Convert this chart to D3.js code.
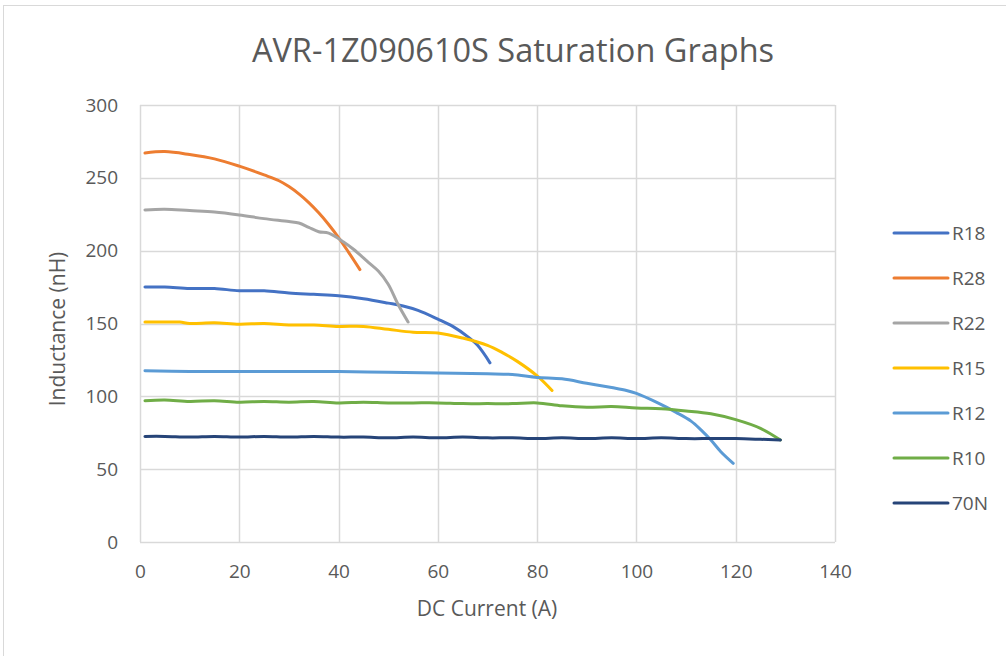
<!DOCTYPE html>
<html>
<head>
<meta charset="utf-8">
<script src="https://cdn.jsdelivr.net/npm/d3@7"></script>
<style>
  body { margin: 0; background: #fff; }
  svg { display: block; }
  text { font-family: "Open Sans", "Noto Sans", sans-serif; fill: #595959; }
</style>
</head>
<body>
<svg id="chart" width="1006" height="656"></svg>
<script>
const title = "AVR-1Z090610S Saturation Graphs";
const xLabel = "DC Current (A)";
const yLabel = "Inductance (nH)";
const xTicks = [0, 20, 40, 60, 80, 100, 120, 140];
const yTicks = [0, 50, 100, 150, 200, 250, 300];
const seriesNames = ["R18", "R28", "R22", "R15", "R12", "R10", "70N"];
const seriesColors = ["#4472C4", "#ED7D31", "#A5A5A5", "#FFC000", "#5B9BD5", "#70AD47", "#264478"];

const R18 = [[1,175],[5,175],[10,174],[15,174],[20,172.5],[25,172.5],[30,171],[35,170],[40,169],[45,167],[50,164],[53,162],[56,159],[60,153],[63,148],[66,141],[68,135],[70.5,123]];
const R28 = [[1,267],[5,268],[10,266],[15,263],[20,258],[25,252],[28,248],[30,244],[32,239],[34,233],[36,226],[38,218],[40,209],[42,199],[44.3,187]];
const R22 = [[1,228],[5,228.5],[10,227.5],[15,226.5],[20,224.5],[25,222],[30,220],[32,219],[34,216],[36,213],[38,212],[41,206],[43,201],[46,192],[48,186],[50,177],[52,163],[54,151]];
const R15 = [[1,151],[5,151],[8,151],[10,150],[15,150.5],[20,149.5],[25,150],[30,149],[35,149],[40,148],[45,148],[50,146],[55,144],[60,143.5],[65,140],[70,135],[73,130],[76,124],[80,114],[83,104]];
const R12 = [[1,117.5],[10,117],[20,117],[30,117],[40,117],[50,116.5],[60,116],[70,115.5],[75,115],[80,113],[85,112],[90,109],[95,106],[98,104],[100,102],[104,96],[108,89],[111,83],[113,77],[115,70],[117,62],[119.5,54]];
const R10 = [[1,97],[5,97.5],[10,96.5],[15,97],[20,96],[25,96.5],[30,96],[35,96.5],[40,95.5],[45,96],[50,95.5],[55,95.5],[60,95.5],[65,95],[70,95],[75,95],[80,95.5],[85,93.5],[90,92.5],[95,93],[100,92],[105,91.5],[110,90],[115,88],[120,84],[125,78],[129,70]];
const N70 = [[1,72.5],[5,72.5],[10,72],[15,72.5],[20,72],[25,72.5],[30,72],[35,72.5],[40,72],[45,72],[50,71.5],[55,72],[60,71.5],[65,72],[70,71.5],[75,71.5],[80,71],[85,71.5],[90,71],[95,71.5],[100,71],[105,71.5],[110,71],[115,71],[120,71],[125,70.5],[129,70]];
const seriesData = [R18, R28, R22, R15, R12, R10, N70];

const svg = d3.select("#chart");
// chart frame
svg.append("rect").attr("x", 3.5).attr("y", 5.5).attr("width", 1010).attr("height", 660)
  .attr("fill", "#fff").attr("stroke", "#d9d9d9").attr("stroke-width", 1);

const x = d3.scaleLinear().domain([0, 140]).range([140, 835]);
const y = d3.scaleLinear().domain([0, 300]).range([542, 105]);

// gridlines
const grid = svg.append("g");
grid.selectAll(".gy").data(yTicks).join("line")
  .attr("x1", x(0)).attr("x2", x(140))
  .attr("y1", d => Math.round(y(d)) + 0.5).attr("y2", d => Math.round(y(d)) + 0.5)
  .attr("stroke", "#d9d9d9").attr("stroke-width", 1.5);
grid.selectAll(".gx").data(xTicks).join("line")
  .attr("y1", y(0)).attr("y2", y(300))
  .attr("x1", d => Math.round(x(d)) + 0.5).attr("x2", d => Math.round(x(d)) + 0.5)
  .attr("stroke", "#d9d9d9").attr("stroke-width", 1.5);

// axes labels via d3 axes
const xAxis = svg.append("g").attr("transform", `translate(0,${y(0)})`)
  .call(d3.axisBottom(x).tickValues(xTicks).tickSize(0).tickPadding(23));
const yAxis = svg.append("g").attr("transform", `translate(${x(0)},0)`)
  .call(d3.axisLeft(y).tickValues(yTicks).tickSize(0).tickPadding(22));
[xAxis, yAxis].forEach(a => {
  a.select(".domain").remove();
  a.selectAll("text").attr("font-size", 19).attr("fill", "#595959")
    .style("font-family", '"Open Sans", "Noto Sans", sans-serif');
});

// series
const line = d3.line().x(d => x(d[0])).y(d => y(d[1])).curve(d3.curveCatmullRom.alpha(0.5));
svg.append("g").selectAll("path").data(seriesData).join("path")
  .attr("d", line).attr("fill", "none")
  .attr("stroke", (d, i) => seriesColors[i]).attr("stroke-width", 3)
  .attr("stroke-linecap", "round").attr("stroke-linejoin", "round");

// title
svg.append("text").attr("x", 513).attr("y", 62).attr("text-anchor", "middle")
  .attr("font-size", 32.5).text(title);

// axis titles
svg.append("text").attr("x", 487).attr("y", 616).attr("text-anchor", "middle")
  .attr("font-size", 21).text(xLabel);
svg.append("text").attr("transform", "translate(65,329) rotate(-90)").attr("text-anchor", "middle")
  .attr("font-size", 21).text(yLabel);

// legend
const leg = svg.append("g").selectAll("g").data(seriesNames).join("g")
  .attr("transform", (d, i) => `translate(894,${233 + i * 45})`);
leg.append("line").attr("x1", 0).attr("x2", 54).attr("y1", 0).attr("y2", 0)
  .attr("stroke", (d, i) => seriesColors[i]).attr("stroke-width", 3).attr("stroke-linecap", "round");
leg.append("text").attr("x", 58).attr("y", 7).attr("font-size", 19).text(d => d);
</script>
</body>
</html>
